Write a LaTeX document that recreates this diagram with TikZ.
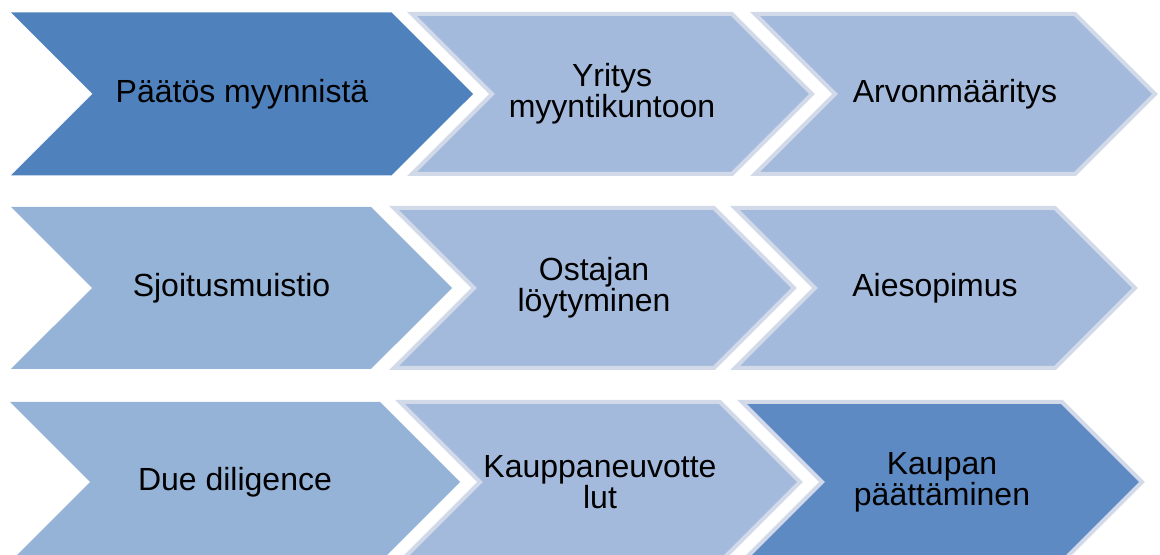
\documentclass[tikz,border=0pt]{standalone}
\usepackage{fontspec}
\setmainfont{Liberation Sans}
\usetikzlibrary{shapes.symbols}
\definecolor{stepdark}{HTML}{4F81BD}
\definecolor{stepmid}{HTML}{5E8AC4}
\definecolor{steplight}{HTML}{A3BADC}
\definecolor{stepfirst}{HTML}{95B2D7}
\definecolor{steprim}{HTML}{D2DAEA}
\begin{document}
\begin{tikzpicture}[x=0.75pt,y=-0.75pt,
	phase/.style={signal, signal from=west, signal to=east, inner sep=0pt,
		align=center, font=\fontsize{24}{23.5}\selectfont,
		minimum width=300pt, minimum height=120pt},
	firstphase/.style={phase, fill=stepfirst},
	lightphase/.style={phase, fill=steplight, draw=steprim, line width=3pt}]
	
	\useasboundingbox (0,0) rectangle (1160,555);
	% ylin rivi
	\node[phase, fill=stepdark, minimum width=346.5pt, minimum height=122.25pt]
		(paatos) at (242,94) {Päätös myynnistä};
	\node[lightphase] (kunto) at (612,94) {Yritys\\myyntikuntoon};
	\node[lightphase] (arvo) at (955,94) {Arvonmääritys};
	% keskimmäinen rivi
	\node[firstphase, minimum width=330.75pt, minimum height=121.5pt]
		(muistio) at (231.5,288) {Sjoitusmuistio};
	\node[lightphase] (ostaja) at (594,288) {Ostajan\\löytyminen};
	\node[lightphase] (aie) at (935,288) {Aiesopimus};
	% alin rivi
	\node[firstphase, minimum width=337.5pt, minimum height=120pt]
		(due) at (235,482) {Due diligence};
	\node[lightphase] (neuvottelu) at (600,482) {Kauppaneuvotte\\lut};
	\node[lightphase, fill=stepmid] (kauppa) at (942,482) {Kaupan\\päättäminen};
\end{tikzpicture}
\end{document}
